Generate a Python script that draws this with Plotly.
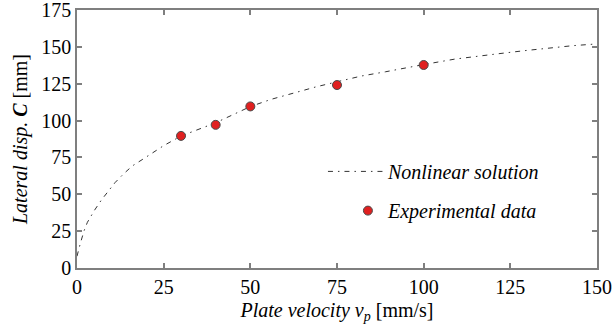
import plotly.graph_objects as go

# Nonlinear solution curve
curve_v = [0, 0.5, 1, 2, 3, 5, 7, 9, 11, 13.5, 16, 19, 22, 25, 30, 35, 40, 45, 50,
           56, 62.5, 69, 75, 82, 89, 95.6, 100, 109, 116, 120, 129, 136, 143, 150]
curve_c = [8, 13, 17, 25, 31, 39, 46, 52, 58, 64, 69.3, 73.8, 78.5, 83, 89.5, 94, 98.5,
           104, 109.5, 114.4, 118.8, 122.9, 126.3, 130.2, 133.1, 136.3, 138, 141.7, 144,
           144.9, 147.4, 149.2, 150.8, 152]

# Experimental data
exp_v = [30, 40, 50, 75, 100]
exp_c = [89.6, 97.1, 109.6, 124.1, 137.7]

x_ticks = [0, 25, 50, 75, 100, 125, 150]
y_ticks = [0, 25, 50, 75, 100, 125, 150, 175]

FONT = "Times New Roman, Liberation Serif, Tinos, DejaVu Serif, serif"
AXC = "#7f7f7f"
FS = 20

fig = go.Figure()
fig.add_trace(go.Scatter(
    x=curve_v, y=curve_c, mode="lines", name="<i>Nonlinear solution</i>",
    line=dict(color="#333333", width=1, dash="5px,5px,1.5px,5px"),
    legend="legend"))
fig.add_trace(go.Scatter(
    x=exp_v, y=exp_c, mode="markers", name="<i>Experimental data</i>",
    marker=dict(color="#e02020", size=9, line=dict(color="#4a4a4a", width=1)),
    legend="legend2"))

axis_common = dict(
    showline=True, linecolor=AXC, linewidth=1.5, mirror="ticks",
    ticks="inside", ticklen=5, tickcolor=AXC, tickwidth=1.5,
    showgrid=False, zeroline=False, automargin=False,
    ticklabeloverflow="allow",
    tickfont=dict(family=FONT, size=FS, color="black"),
)

fig.update_layout(
    width=613, height=331,
    margin=dict(l=77, r=16, t=10, b=63),
    plot_bgcolor="white", paper_bgcolor="white",
    font=dict(family=FONT, size=FS, color="black"),
    xaxis=dict(range=[0, 150], tickvals=x_ticks,
               title=dict(text="<i>Plate velocity v</i><sub><i>p</i></sub> [mm/s]",
                          font=dict(family=FONT, size=FS), standoff=6),
               **axis_common),
    yaxis=dict(range=[0, 175], tickvals=y_ticks,
               title=dict(text="<i>Lateral disp. </i><b><i>C</i></b> [mm]",
                          font=dict(family=FONT, size=FS), standoff=8),
               **axis_common),
    legend=dict(x=0.473, y=0.45, xanchor="left", yanchor="top",
                bgcolor="rgba(0,0,0,0)", font=dict(family=FONT, size=FS),
                itemwidth=55),
    legend2=dict(x=0.521, y=0.298, xanchor="left", yanchor="top",
                 bgcolor="rgba(0,0,0,0)", font=dict(family=FONT, size=FS),
                 itemwidth=30),
    showlegend=True,
)

fig.write_html("out.html")
